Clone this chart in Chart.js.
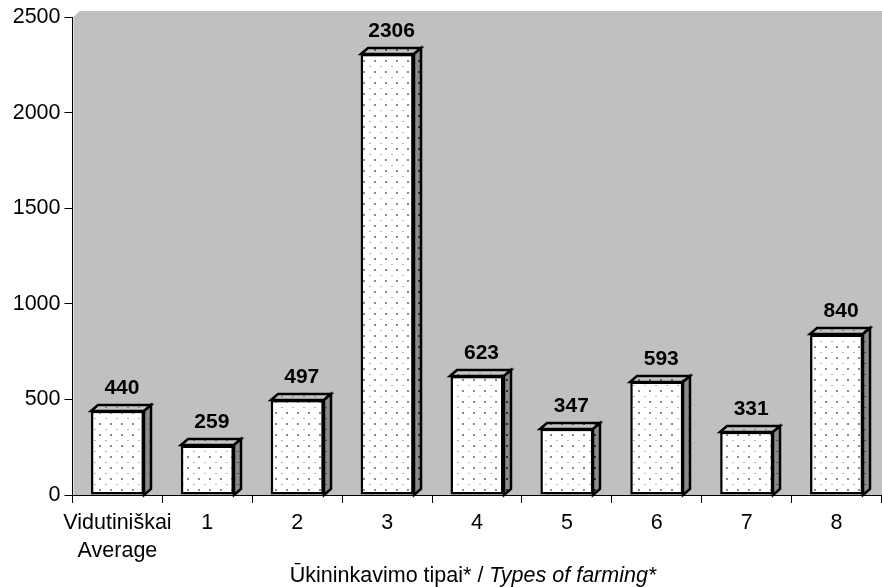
<!DOCTYPE html>
<html><head><meta charset="utf-8">
<style>html,body{margin:0;padding:0;background:#fff}#w{position:relative;width:882px;height:587px}</style>
<script src="https://cdn.jsdelivr.net/npm/chart.js@4"></script>
</head><body><div id="w"><canvas id="c" width="882" height="587"></canvas></div>
<script>
const categories = [["Vidutiniškai","Average"],"1","2","3","4","5","6","7","8"];
const values = [440,259,497,2306,623,347,593,331,840];
const yTicks = [0,500,1000,1500,2000,2500];
const titleNormal = "Ūkininkavimo tipai* / ";
const titleItalic = "Types of farming*";
const FONT = '"Liberation Sans", Arial, sans-serif';
const DX = 7, DY = 6;

function tile(bg, big, small){
  const t = document.createElement('canvas'); t.width = 11; t.height = 11;
  const g = t.getContext('2d');
  g.fillStyle = bg; g.fillRect(0,0,11,11);
  g.fillStyle = big; g.fillRect(0,5,2,2);
  g.fillStyle = small; g.fillRect(6,0,2,1);
  return document.createElement('canvas').getContext('2d').createPattern(t,'repeat');
}
const frontFill = tile('#ffffff','#8a8a8a','#b4b4b4');
const topFill = tile('#c4c4c4','#606060','#808080');
const sideFill = tile('#8c8c8c','#303030','#505050');

const wall = {
  id:'wall',
  beforeDraw(ch){
    const a = ch.chartArea, c = ch.ctx;
    c.save(); c.fillStyle = '#c0c0c0';
    c.beginPath();
    c.moveTo(a.left+1, a.top); c.lineTo(a.left+DX, a.top-DY);
    c.lineTo(ch.width, a.top-DY); c.lineTo(ch.width, a.bottom);
    c.lineTo(a.left+1, a.bottom); c.closePath(); c.fill();
    c.restore();
  }
};
const faces = {
  id:'faces',
  beforeDatasetsDraw(ch){
    const c = ch.ctx;
    c.save(); c.strokeStyle = '#000'; c.lineWidth = 2.5; c.lineJoin = 'miter';
    ch.getDatasetMeta(0).data.forEach(b=>{
      const l = Math.round(b.x-b.width/2), r = Math.round(b.x+b.width/2), t = Math.round(b.y), z = Math.round(b.base);
      c.fillStyle = topFill;
      c.beginPath(); c.moveTo(l,t); c.lineTo(l+DX,t-DY); c.lineTo(r+DX,t-DY); c.lineTo(r,t); c.closePath(); c.fill(); c.stroke();
      c.fillStyle = sideFill;
      c.beginPath(); c.moveTo(r,t); c.lineTo(r+DX,t-DY); c.lineTo(r+DX,z-DY); c.lineTo(r,z); c.closePath(); c.fill(); c.stroke();
    });
    c.restore();
  }
};
const labels = {
  id:'labels',
  afterDatasetsDraw(ch){
    const c = ch.ctx;
    c.save(); c.fillStyle='#000'; c.font='bold 21px '+FONT; c.textAlign='center'; c.textBaseline='alphabetic';
    ch.getDatasetMeta(0).data.forEach((b,i)=>c.fillText(String(values[i]), b.x+4.5, b.y-17));
    c.restore();
  },
  afterDraw(ch){
    const c = ch.ctx;
    c.save(); c.fillStyle='#000'; c.textBaseline='alphabetic'; c.textAlign='left';
    const fn='21.5px '+FONT, fi='italic 21.5px '+FONT;
    c.font=fn; const w1=c.measureText(titleNormal).width;
    c.font=fi; const w2=c.measureText(titleItalic).width;
    const x=473-(w1+w2)/2, y=582;
    c.font=fn; c.fillText(titleNormal,x,y);
    c.font=fi; c.fillText(titleItalic,x+w1,y);
    c.restore();
  }
};
Chart.defaults.font.family = FONT;
new Chart(document.getElementById('c'),{
  type:'bar',
  data:{labels:categories,datasets:[{data:values,backgroundColor:frontFill,borderColor:'#000',borderWidth:2.5,barPercentage:0.59,categoryPercentage:1,borderSkipped:false}]},
  plugins:[wall,faces,labels],
  options:{
    responsive:false,animation:false,
    layout:{padding:{top:17,right:0.5,left:0,bottom:0}},
    plugins:{legend:{display:false},tooltip:{enabled:false},title:{display:false}},
    scales:{
      x:{
        afterFit(s){s.height=92;},
        grid:{offset:true,drawOnChartArea:false,drawTicks:true,tickLength:8,color:'#000',lineWidth:1},
        border:{color:'#000',width:1},
        ticks:{color:'#000',font:{size:21.5,lineHeight:1.3},padding:6,maxRotation:0,autoSkip:false}
      },
      y:{
        min:0,max:2500,
        afterFit(s){s.width=72.5;},
        afterBuildTicks(s){s.ticks=yTicks.map(v=>({value:v}));},
        grid:{drawOnChartArea:false,drawTicks:true,tickLength:8,color:'#000',lineWidth:1},
        border:{color:'#000',width:1},
        ticks:{color:'#000',font:{size:21.5},padding:4,callback:v=>String(v)}
      }
    }
  }
});
</script></body></html>
